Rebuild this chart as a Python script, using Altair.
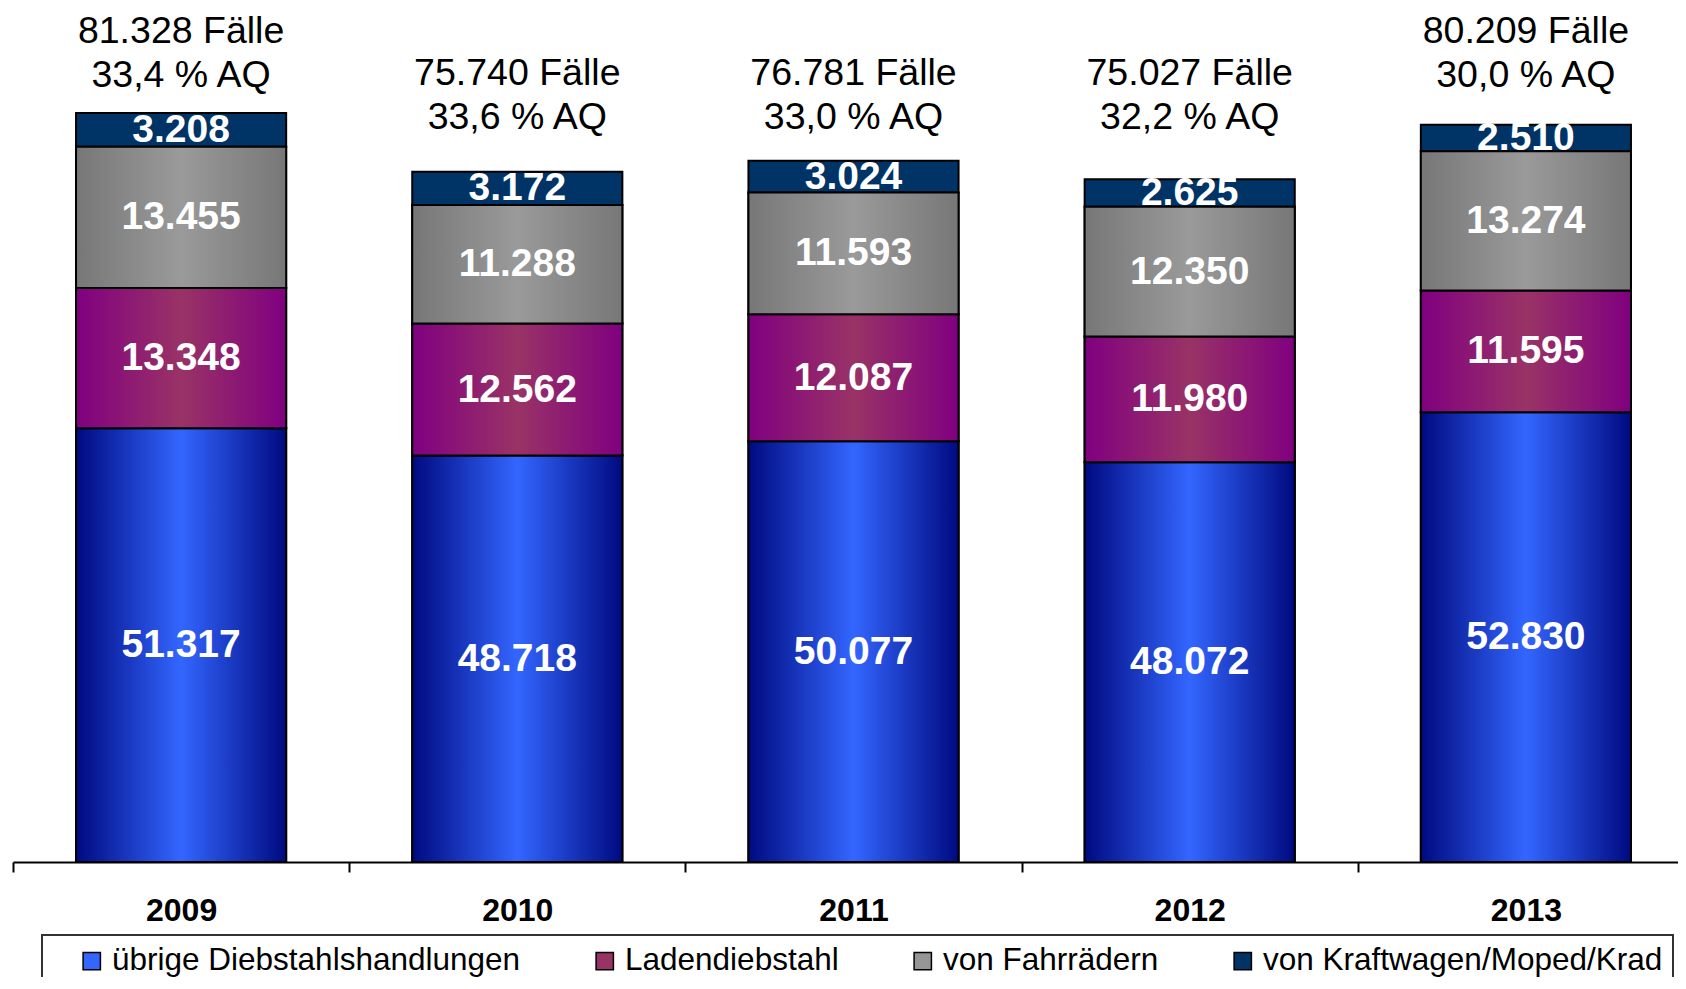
import altair as alt
import pandas as pd

# ---- data ----
YEARS = ["2009", "2010", "2011", "2012", "2013"]
SERIES = ["übrige Diebstahlshandlungen", "Ladendiebstahl", "von Fahrrädern", "von Kraftwagen/Moped/Krad"]
UEBRIGE = [51317, 48718, 50077, 48072, 52830]
LADEN = [13348, 12562, 12087, 11980, 11595]
FAHRRAD = [13455, 11288, 11593, 12350, 13274]
KFZ = [3208, 3172, 3024, 2625, 2510]
AQ = [33.4, 33.6, 33.0, 32.2, 30.0]

# ---- styling ----
LEGEND_COLORS = ["#3366FF", "#993366", "#969696", "#003366"]
GRADIENTS = {
    "übrige Diebstahlshandlungen": ("#000A80", "#3366FF"),
    "Ladendiebstahl": ("#800080", "#993366"),
    "von Fahrrädern": ("#777777", "#9A9A9A"),
}
FONT = "Liberation Sans"
Y_MIN = 10000
Y_MAX = 91333

values_by_series = [UEBRIGE, LADEN, FAHRRAD, KFZ]
rows = []
for si, (name, vals) in enumerate(zip(SERIES, values_by_series)):
    for yi, year in enumerate(YEARS):
        rows.append({"year": year, "series": name, "value": vals[yi], "order": si, "aq": AQ[yi]})
df = pd.DataFrame(rows)

x_enc = alt.X(
    "year:N",
    sort=YEARS,
    scale=alt.Scale(range=[0, 1681], paddingInner=0, paddingOuter=0),
    axis=alt.Axis(
        title=None,
        labelAngle=0,
        labelFont=FONT,
        labelFontSize=32,
        labelFontWeight="bold",
        labelColor="#000000",
        labelPadding=23,
        domainColor="#000000",
        domainWidth=2,
        tickColor="#000000",
        tickWidth=2,
        tickSize=10,
        tickBand="extent",
    ),
)
y_scale = alt.Scale(domain=[Y_MIN, Y_MAX], zero=False, nice=False)

base = (
    alt.Chart(df)
    .transform_stack(
        stack="value",
        groupby=["year"],
        as_=["y0", "y1"],
        sort=[alt.SortField("order", order="ascending")],
    )
    .transform_calculate(
        y0c=f"max(datum.y0, {Y_MIN})",
    )
    .transform_calculate(
        mid="(datum.y0c + datum.y1) / 2",
        lbl="replace(format(datum.value, ','), ',', '.')",
    )
)

bar_w = alt.RelativeBandSize(0.625)

solid = base.mark_bar(width=bar_w, stroke="#000000", strokeWidth=2).encode(
    x=x_enc,
    y=alt.Y("y1:Q", scale=y_scale, axis=None),
    y2="y0c:Q",
    color=alt.Color(
        "series:N",
        scale=alt.Scale(domain=SERIES, range=LEGEND_COLORS),
        legend=alt.Legend(
            title=None,
            orient="none",
            direction="horizontal",
            legendX=29,
            legendY=927,
            symbolType="square",
            symbolSize=300,
            symbolStrokeColor="#000000",
            symbolStrokeWidth=1.5,
            symbolOffset=24,
            labelOffset=4.5,
            columnPadding=44,
            labelFont=FONT,
            labelFontSize=31.5,
            labelColor="#000000",
            labelLimit=1000,
            padding=10,
            strokeColor="#333333",
        ),
    ),
)

layers = [solid]
for name, (edge, center) in GRADIENTS.items():
    grad = {
        "gradient": "linear",
        "x1": 0, "x2": 1, "y1": 0, "y2": 0,
        "stops": [
            {"offset": 0, "color": edge},
            {"offset": 0.5, "color": center},
            {"offset": 1, "color": edge},
        ],
    }
    layers.append(
        base.transform_filter(alt.datum.series == name)
        .mark_bar(width=bar_w, fill=grad, stroke="#000000", strokeWidth=2)
        .encode(x=x_enc, y=alt.Y("y1:Q", scale=y_scale), y2="y0c:Q")
    )

seg_text = base.mark_text(
    font=FONT, fontSize=39, fontWeight="bold", color="#FFFFFF", baseline="middle", align="center"
).encode(x=x_enc, y=alt.Y("mid:Q", scale=y_scale), text="lbl:N")
layers.append(seg_text)

tot = (
    alt.Chart(df)
    .transform_aggregate(total="sum(value)", aq="max(aq)", groupby=["year"])
    .transform_joinaggregate(max_total="max(total)")
    .transform_calculate(
        top_label="[replace(format(datum.total, ','), ',', '.') + ' Fälle', "
        "replace(format(datum.aq, '.1f'), '.', ',') + ' % AQ']",
        bump="datum.total > 0.97 * datum.max_total ? 1 : 0",
    )
)
for bump, dy in [(0, -39), (1, -81)]:
    layers.append(
        tot.transform_filter(alt.datum.bump == bump)
        .mark_text(font=FONT, fontSize=37.5, color="#000000", baseline="middle", align="center",
                   lineHeight=44, dy=dy)
        .encode(x=x_enc, y=alt.Y("max_total:Q", scale=y_scale), text="top_label:N")
    )

chart = (
    alt.layer(*layers)
    .properties(
        width=1665,
        height=854,
        padding={"left": 5, "top": 0, "right": 0, "bottom": 115},
        autosize=alt.AutoSizeParams(type="none"),
        background="#FFFFFF",
    )
    .configure_view(stroke="transparent")
    .configure_legend(strokeWidth=2)
)

chart.save("out.html", embed_options={"renderer": "svg", "actions": False})
